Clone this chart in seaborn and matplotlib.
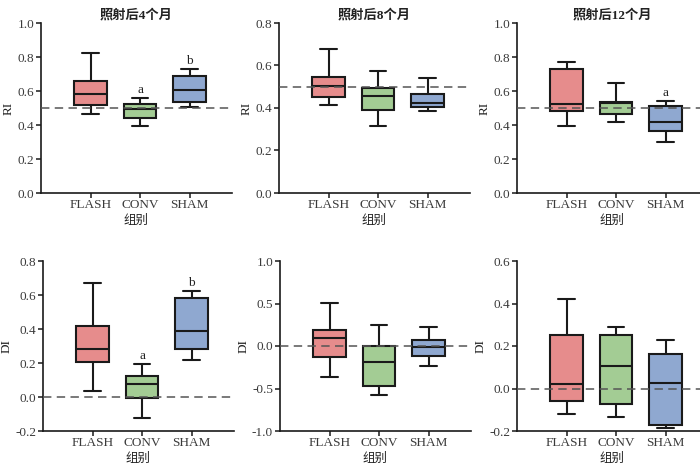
import numpy as np
import pandas as pd
import matplotlib
matplotlib.use("Agg")
import matplotlib.pyplot as plt
from matplotlib.ticker import FuncFormatter
import seaborn as sns

sns.set_style("ticks")
plt.rcParams['font.family'] = ['Liberation Serif', 'Noto Sans CJK SC']
plt.rcParams['axes.unicode_minus'] = False

groups = ["FLASH", "CONV", "SHAM"]
palette = ["#E68C8C", "#A3CC94", "#8FA8D0"]
titles = ["照射后4个月", "照射后8个月", "照射后12个月"]
xlabel = "组别"

# each group: [whisker low, Q1, median, Q3, whisker high]
ri_4m = {"FLASH": [0.463, 0.516, 0.585, 0.661, 0.823],
         "CONV":  [0.396, 0.441, 0.492, 0.522, 0.557],
         "SHAM":  [0.506, 0.537, 0.606, 0.687, 0.732]}
ri_8m = {"FLASH": [0.413, 0.452, 0.504, 0.546, 0.677],
         "CONV":  [0.315, 0.391, 0.455, 0.496, 0.573],
         "SHAM":  [0.386, 0.406, 0.425, 0.468, 0.539]}
ri_12m = {"FLASH": [0.394, 0.484, 0.524, 0.732, 0.768],
          "CONV":  [0.415, 0.465, 0.527, 0.537, 0.648],
          "SHAM":  [0.301, 0.364, 0.415, 0.512, 0.543]}
di_4m = {"FLASH": [0.034, 0.207, 0.285, 0.415, 0.668],
         "CONV":  [-0.123, -0.004, 0.079, 0.124, 0.197],
         "SHAM":  [0.218, 0.283, 0.391, 0.584, 0.623]}
di_8m = {"FLASH": [-0.359, -0.128, 0.096, 0.183, 0.505],
         "CONV":  [-0.579, -0.473, -0.190, -0.002, 0.246],
         "SHAM":  [-0.230, -0.120, -0.006, 0.069, 0.218]}
di_12m = {"FLASH": [-0.121, -0.061, 0.021, 0.253, 0.419],
          "CONV":  [-0.133, -0.073, 0.106, 0.250, 0.291],
          "SHAM":  [-0.185, -0.171, 0.025, 0.161, 0.230]}

letters_ri_4m = ["", "a", "b"]
letters_ri_8m = ["", "", ""]
letters_ri_12m = ["", "", "a"]
letters_di_4m = ["", "a", "b"]
letters_di_8m = ["", "", ""]
letters_di_12m = ["", "", ""]

ref_ri = 0.5
ref_di = 0.0

yticks_ri_4m = [0.0, 0.2, 0.4, 0.6, 0.8, 1.0]
yticks_ri_8m = [0.0, 0.2, 0.4, 0.6, 0.8]
yticks_ri_12m = [0.0, 0.2, 0.4, 0.6, 0.8, 1.0]
yticks_di_4m = [-0.2, 0.0, 0.2, 0.4, 0.6, 0.8]
yticks_di_8m = [-1.0, -0.5, 0.0, 0.5, 1.0]
yticks_di_12m = [-0.2, 0.0, 0.2, 0.4, 0.6]

panels = [
    (ri_4m, letters_ri_4m, yticks_ri_4m, "RI", ref_ri, titles[0]),
    (ri_8m, letters_ri_8m, yticks_ri_8m, "RI", ref_ri, titles[1]),
    (ri_12m, letters_ri_12m, yticks_ri_12m, "RI", ref_ri, titles[2]),
    (di_4m, letters_di_4m, yticks_di_4m, "DI", ref_di, None),
    (di_8m, letters_di_8m, yticks_di_8m, "DI", ref_di, None),
    (di_12m, letters_di_12m, yticks_di_12m, "DI", ref_di, None),
]

W, H = 700, 465
fig = plt.figure(figsize=(7, 4.65), dpi=100)
lefts = [[41, 279, 517], [43, 280, 517]]
tops = [23, 261]
ah = 170
aw = 190.6

fmt = FuncFormatter(lambda v, p: f"{(0.0 if abs(v) < 1e-9 else v):.1f}")

for i, (d, letters, yt, ylab, ref, title) in enumerate(panels):
    r, c = divmod(i, 3)
    ax = fig.add_axes([lefts[r][c] / W, (H - tops[r] - ah) / H, aw / W, ah / H])
    df = pd.DataFrame([(g, v) for g in groups for v in d[g]], columns=["group", "value"])
    sns.boxplot(data=df, x="group", y="value", hue="group", order=groups, hue_order=groups,
                palette=palette, saturation=1, whis=(0, 100), width=0.65, showfliers=False,
                linecolor="#1a1a1a", linewidth=1.5, legend=False, ax=ax)
    ax.axhline(ref, color="#555555", lw=1.1, ls=(0, (5.5, 3.5)), zorder=5)
    ax.set_xlim(-1.0, 2.85)
    ax.set_ylim(yt[0], yt[-1])
    ax.set_yticks(yt)
    ax.yaxis.set_major_formatter(fmt)
    for j, g in enumerate(groups):
        if letters[j]:
            ax.annotate(letters[j], (j, max(d[g])), xytext=(0, 3.5), textcoords="offset points",
                        ha="center", va="baseline", fontsize=9.5, color="#222222")
    sns.despine(ax=ax)
    for s in ("left", "bottom"):
        ax.spines[s].set_linewidth(1.2)
        ax.spines[s].set_color("#1a1a1a")
    ax.tick_params(axis="both", direction="out", length=3.5, width=1.1, color="#1a1a1a",
                   labelsize=9.5, labelcolor="#3a3a3a", pad=1.5)
    ax.tick_params(axis="x", pad=0.5)
    ax.set_xlabel(xlabel, fontsize=9, color="#222222", labelpad=3)
    ax.set_ylabel(ylab, fontsize=9.5, color="#222222", labelpad=2)
    if title:
        ax.set_title(title, fontsize=9.5, fontweight="bold", color="#222222", pad=3)

fig.savefig("out.png", dpi=100)
